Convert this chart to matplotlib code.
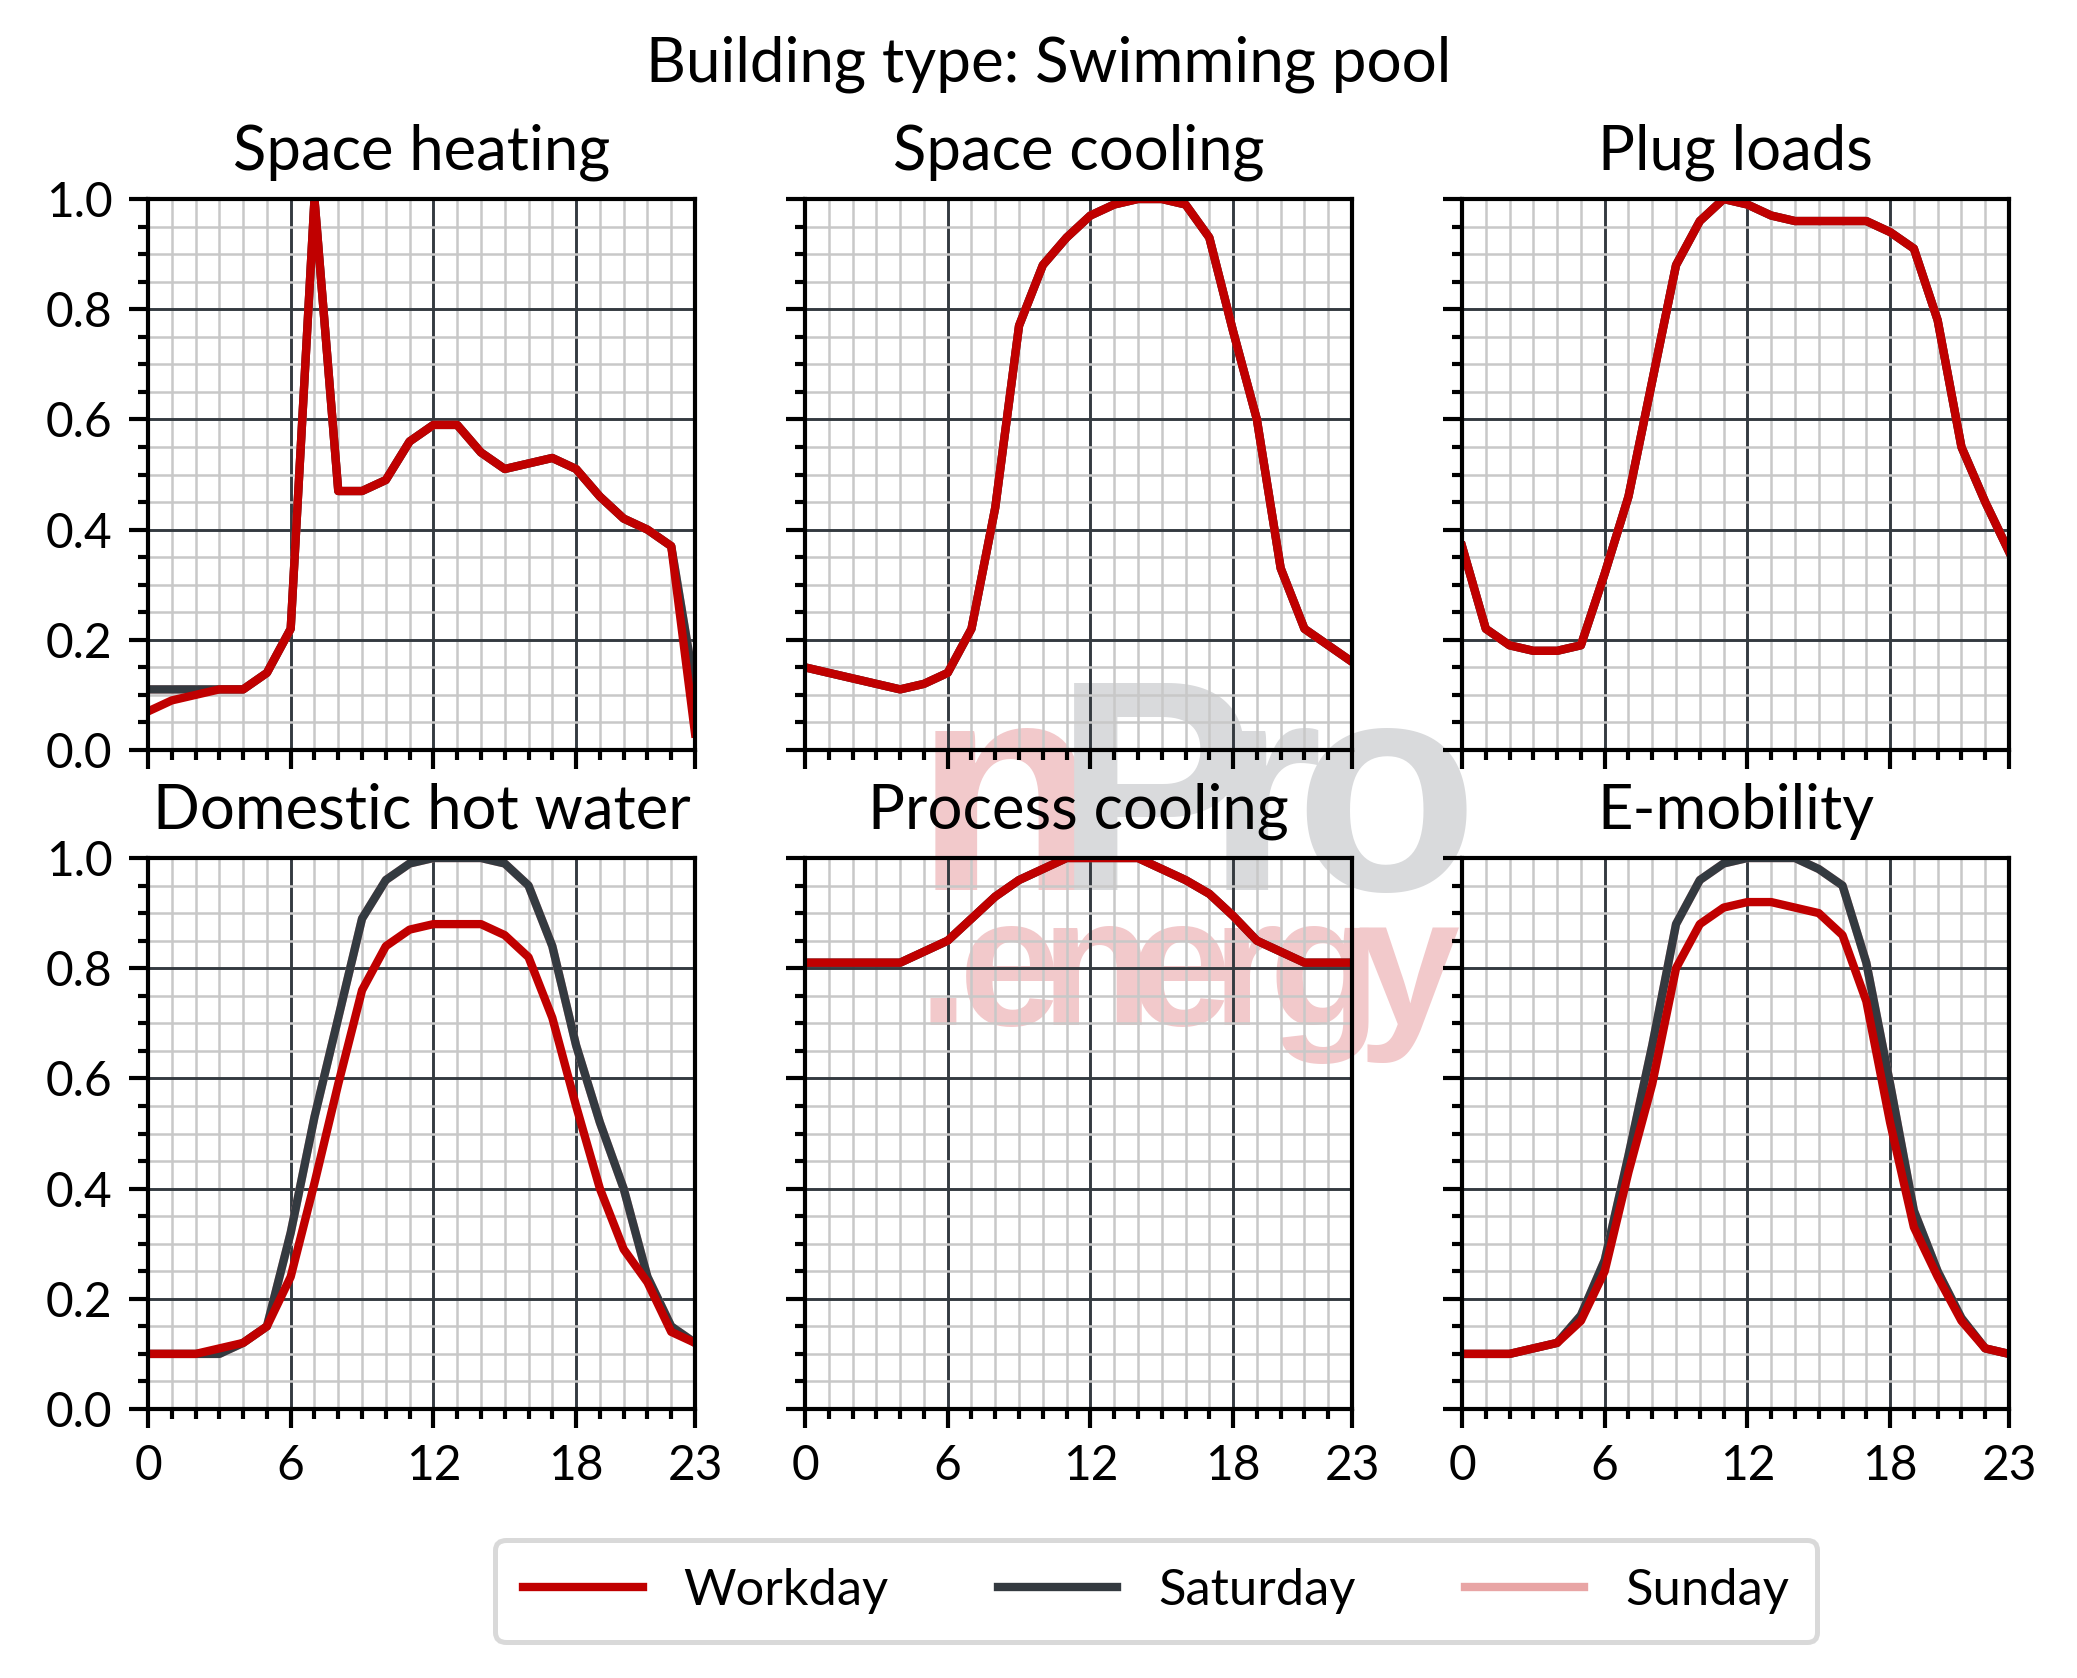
import matplotlib
matplotlib.use("Agg")
import matplotlib.pyplot as plt
from matplotlib.ticker import MultipleLocator, FixedLocator
from matplotlib.font_manager import FontProperties

# ---------------- data ----------------
hours = list(range(24))
x_tick_labels = ["0", "6", "12", "18", "23"]
x_tick_pos = [0, 6, 12, 18, 23]

titles = ["Space heating", "Space cooling", "Plug loads",
          "Domestic hot water", "Process cooling", "E-mobility"]
suptitle = "Building type: Swimming pool"
series_names = ["Workday", "Saturday", "Sunday"]

heat_work = [0.07, 0.09, 0.10, 0.11, 0.11, 0.14, 0.22, 1.00, 0.47, 0.47, 0.49, 0.56,
             0.59, 0.59, 0.54, 0.51, 0.52, 0.53, 0.51, 0.46, 0.42, 0.40, 0.37, 0.03]
heat_sat = [0.11, 0.11, 0.11, 0.11, 0.11, 0.14, 0.22, 1.00, 0.47, 0.47, 0.49, 0.56,
            0.59, 0.59, 0.54, 0.51, 0.52, 0.53, 0.51, 0.46, 0.42, 0.40, 0.37, 0.11]
heat_sun = [0.11, 0.11, 0.11, 0.11, 0.11, 0.14, 0.22, 1.00, 0.47, 0.47, 0.49, 0.56,
            0.59, 0.59, 0.54, 0.51, 0.52, 0.53, 0.51, 0.46, 0.42, 0.40, 0.37, 0.11]

cool_work = [0.15, 0.14, 0.13, 0.12, 0.11, 0.12, 0.14, 0.22, 0.44, 0.77, 0.88, 0.93,
             0.97, 0.99, 1.00, 1.00, 0.99, 0.93, 0.76, 0.60, 0.33, 0.22, 0.19, 0.16]
cool_sat = list(cool_work)
cool_sun = list(cool_work)

plug_work = [0.37, 0.22, 0.19, 0.18, 0.18, 0.19, 0.32, 0.46, 0.67, 0.88, 0.96, 1.00,
             0.99, 0.97, 0.96, 0.96, 0.96, 0.96, 0.94, 0.91, 0.78, 0.55, 0.45, 0.36]
plug_sat = list(plug_work)
plug_sun = list(plug_work)

dhw_work = [0.10, 0.10, 0.10, 0.11, 0.12, 0.15, 0.24, 0.41, 0.59, 0.76, 0.84, 0.87,
            0.88, 0.88, 0.88, 0.86, 0.82, 0.71, 0.55, 0.40, 0.29, 0.23, 0.14, 0.12]
dhw_sat = [0.10, 0.10, 0.10, 0.10, 0.12, 0.15, 0.32, 0.53, 0.71, 0.89, 0.96, 0.99,
           1.00, 1.00, 1.00, 0.99, 0.95, 0.84, 0.66, 0.52, 0.40, 0.24, 0.15, 0.12]
dhw_sun = list(dhw_sat)

proc_work = [0.81, 0.81, 0.81, 0.81, 0.81, 0.83, 0.85, 0.89, 0.93, 0.96, 0.98, 1.00,
             1.00, 1.00, 1.00, 0.98, 0.96, 0.935, 0.895, 0.85, 0.83, 0.81, 0.81, 0.81]
proc_sat = list(proc_work)
proc_sun = list(proc_work)

emob_work = [0.10, 0.10, 0.10, 0.11, 0.12, 0.16, 0.25, 0.43, 0.59, 0.80, 0.88, 0.91,
             0.92, 0.92, 0.91, 0.90, 0.86, 0.74, 0.52, 0.33, 0.24, 0.16, 0.11, 0.10]
emob_sat = [0.10, 0.10, 0.10, 0.11, 0.12, 0.17, 0.27, 0.46, 0.66, 0.88, 0.96, 0.99,
            1.00, 1.00, 1.00, 0.98, 0.95, 0.81, 0.59, 0.36, 0.25, 0.165, 0.11, 0.10]
emob_sun = list(emob_sat)

panels = [
    (heat_work, heat_sat, heat_sun),
    (cool_work, cool_sat, cool_sun),
    (plug_work, plug_sat, plug_sun),
    (dhw_work, dhw_sat, dhw_sun),
    (proc_work, proc_sat, proc_sun),
    (emob_work, emob_sat, emob_sun),
]

# ---------------- style ----------------
FONT = ["Lato", "DejaVu Sans"]
plt.rcParams["font.family"] = FONT
C_WORK = "#c00000"
C_SAT = "#343a40"
C_SUN = "#e8a5a5"
C_MAJ = "#343a40"
C_MIN = "#c8c8c8"
LW = 2.0

W, H, DPI = 2077, 1678, 300
fig = plt.figure(figsize=(W / DPI, H / DPI), dpi=DPI, facecolor="white")

# axes boxes in pixels (left, right) / (top, bottom)
col_x = [(148, 695), (805, 1352), (1462, 2009)]
row_y = [(199, 750), (858, 1409)]

axes = []
for r in range(2):
    for c in range(3):
        x0, x1 = col_x[c]
        y0, y1 = row_y[r]
        ax = fig.add_axes([x0 / W, 1 - y1 / H, (x1 - x0) / W, (y1 - y0) / H])
        ax.set_facecolor("none")
        axes.append(ax)

for i, ax in enumerate(axes):
    r, c = divmod(i, 3)
    work, sat, sun = panels[i]
    ax.plot(hours, sun, color=C_SUN, lw=LW, zorder=3)
    ax.plot(hours, sat, color=C_SAT, lw=LW, zorder=4)
    ax.plot(hours, work, color=C_WORK, lw=LW, zorder=5)
    ax.set_xlim(0, 23)
    ax.set_ylim(0, 1)
    ax.xaxis.set_major_locator(FixedLocator(x_tick_pos))
    ax.xaxis.set_minor_locator(MultipleLocator(1))
    ax.yaxis.set_major_locator(MultipleLocator(0.2))
    ax.yaxis.set_minor_locator(MultipleLocator(0.05))
    ax.grid(which="minor", color=C_MIN, lw=0.6, zorder=1)
    ax.grid(which="major", color=C_MAJ, lw=0.7, zorder=2)
    ax.set_axisbelow(True)
    for s in ax.spines.values():
        s.set_linewidth(1.0)
        s.set_color("black")
        s.set_zorder(6)
    ax.tick_params(which="major", length=4.5, width=1.0, labelsize=11.5, pad=4)
    ax.tick_params(which="minor", length=2.3, width=1.0)
    if r == 1:
        ax.set_xticklabels(x_tick_labels)
    else:
        ax.set_xticklabels([])
    if c == 0:
        ax.set_yticklabels([f"{v:.1f}" for v in ax.get_yticks()])
    else:
        ax.set_yticklabels([])
    ax.set_title(titles[i], fontsize=14.8, pad=7)

fig.text(0.505, 0.962, suptitle, ha="center", va="center", fontsize=14.9)

handles = [plt.Line2D([], [], color=C_WORK, lw=LW),
           plt.Line2D([], [], color=C_SAT, lw=LW),
           plt.Line2D([], [], color=C_SUN, lw=LW)]
leg = fig.legend(handles, series_names, loc="center", bbox_to_anchor=(0.5566, 0.0518),
                 ncol=3, fontsize=12.2, handlelength=2.35, handletextpad=0.8,
                 columnspacing=2.15, frameon=True, fancybox=True,
                 borderpad=0.55, edgecolor="#d0d0d0")
leg.get_frame().set_linewidth(1.2)

# ---------------- watermark (letter by letter, tight spacing) ----------------
renderer = fig.canvas.get_renderer()


def place_word(letters, colors, x_start, x_end, baseline, size):
    prop = FontProperties(family=["Liberation Sans", "DejaVu Sans"], weight="bold", size=size)
    widths = []
    for ch in letters:
        w, h, d = renderer.get_text_width_height_descent(ch, prop, ismath=False)
        widths.append(w)
    total_prev = sum(widths[:-1])
    k = (x_end - x_start - widths[-1]) / total_prev if total_prev > 0 else 1
    xpos = x_start
    for ch, col, w in zip(letters, colors, widths):
        fig.text(xpos / W, 1 - baseline / H, ch, color=col, fontproperties=prop,
                 ha="left", va="baseline", zorder=-5)
        xpos += w * k


PINK = "#f2c9cb"
GREY = "#d9dadc"
place_word(list("nPro"), [PINK, GREY, GREY, GREY], 915, 1478, 890, 72)
place_word(list(".energy"), [PINK] * 7, 918, 1460, 1025, 44)

fig.savefig("out.png", dpi=DPI, facecolor="white")
